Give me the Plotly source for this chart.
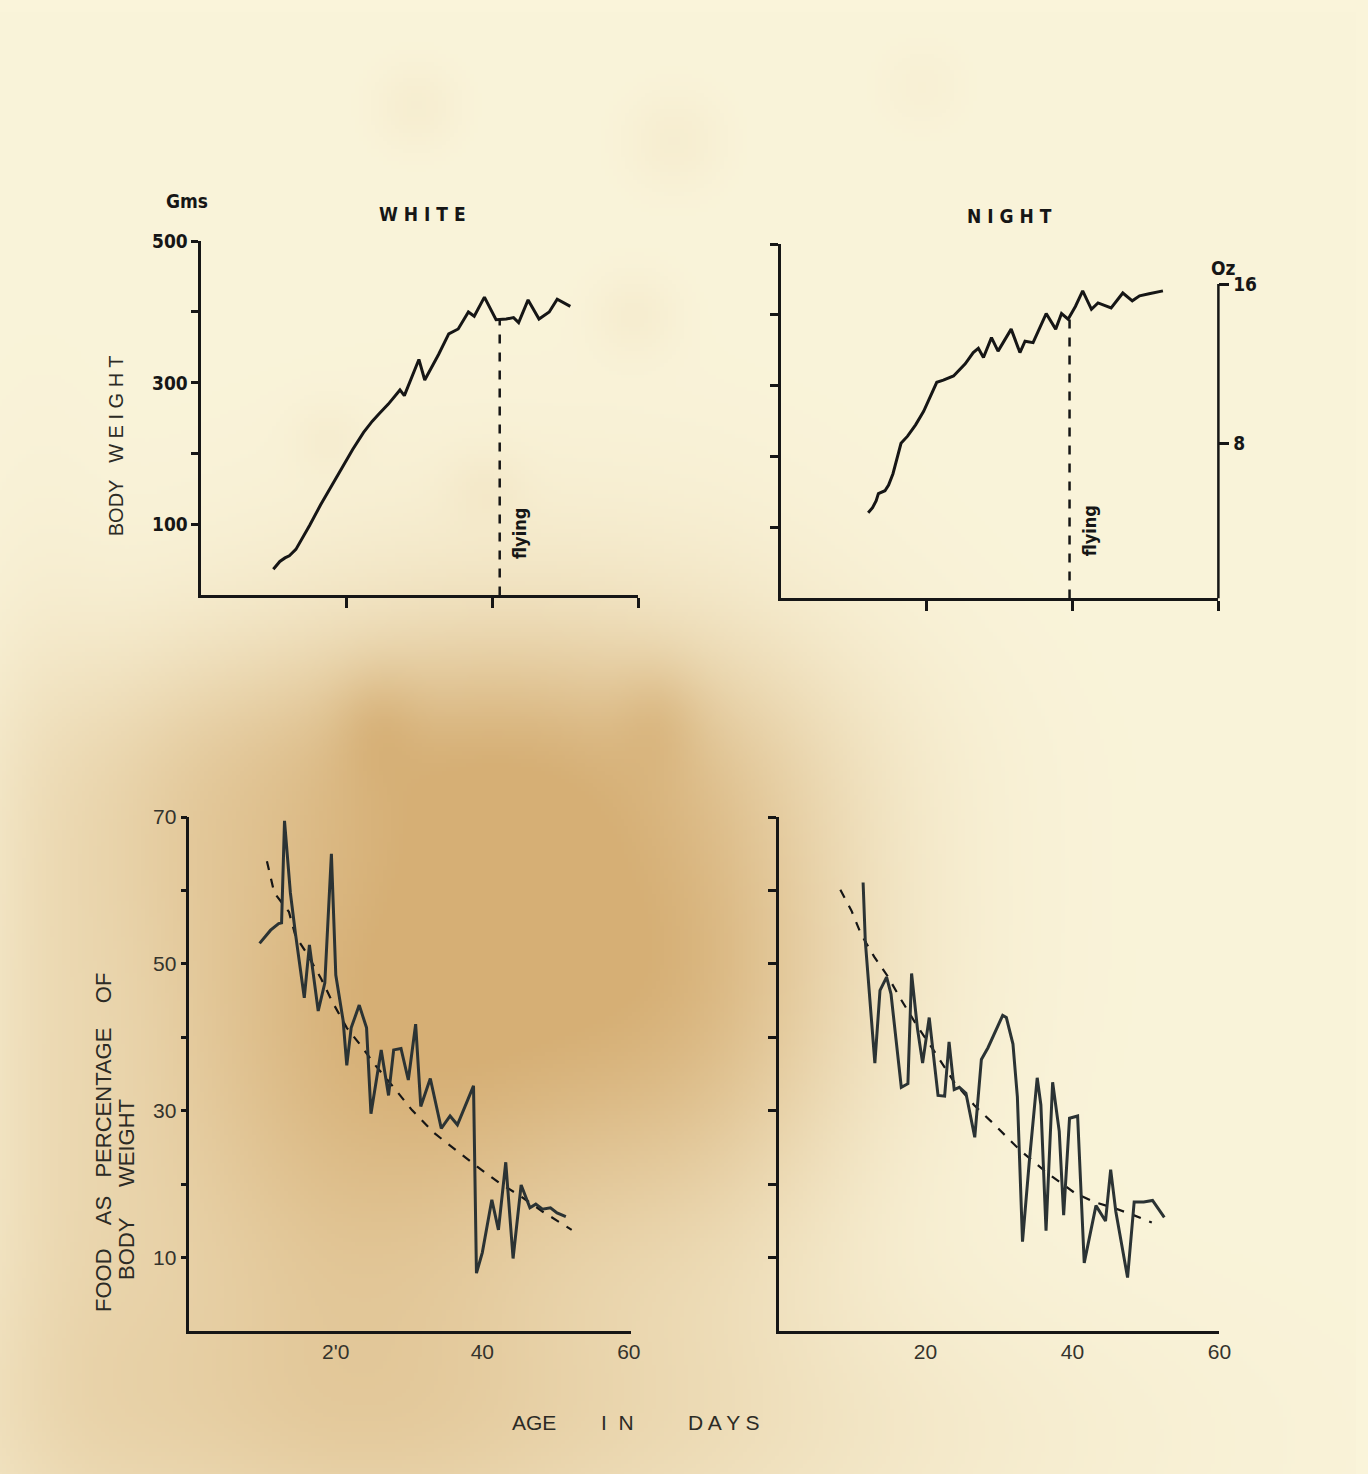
import base64
import struct
import zlib

import numpy as np
import plotly.graph_objects as go

# ---------------- data ----------------
white_day = [9.9, 10.8, 11.5, 12.1, 13.0, 13.7, 14.9, 16.4, 17.9, 19.4, 20.8, 22.3, 23.5,
             24.5, 25.7, 27.3, 27.9, 29.9, 30.7, 32.6, 34.0, 35.3, 36.7, 37.5, 38.9, 40.5,
             41.9, 42.9, 43.6, 44.9, 46.4, 47.8, 48.9, 50.7]
white_wt = [37, 48, 53, 56, 65, 77, 99, 128, 155, 182, 206, 230, 246,
            257, 270, 290, 282, 333, 304, 340, 369, 376, 400, 394, 421, 389,
            390, 392, 385, 417, 390, 400, 418, 408]

night_day = [12.0, 12.6, 13.1, 13.4, 14.3, 14.8, 15.4, 16.0, 16.5, 17.4, 18.5, 19.6, 20.0,
             21.4, 22.3, 23.7, 25.3, 26.4, 27.1, 27.8, 28.9, 29.8, 31.6, 32.8, 33.5, 34.6,
             36.4, 37.7, 38.5, 39.4, 40.4, 41.4, 42.6, 43.5, 45.3, 46.9, 48.2, 49.2, 50.5, 52.4]
night_wt = [121, 128, 138, 148, 152, 160, 176, 200, 219, 229, 245, 264, 273,
            305, 308, 314, 331, 347, 353, 340, 368, 349, 380, 347, 363, 361,
            402, 380, 402, 394, 412, 434, 408, 417, 410, 431, 420, 427, 430, 434]

white_flying_day = [41.0, 41.0]
white_flying_wt = [0, 389]
night_flying_day = [39.6, 39.6]
night_flying_wt = [0, 396]

white_food_day = [9.6, 11.1, 12.2, 12.6, 13.0, 13.8, 14.5, 15.7, 16.4, 16.9, 17.6, 18.5, 19.4,
                  20.0, 21.0, 21.5, 22.1, 23.2, 24.2, 24.8, 26.2, 27.2, 27.9, 28.9, 29.9, 30.9,
                  31.6, 32.9, 34.4, 35.6, 36.6, 38.8, 39.2, 40.0, 41.3, 42.2, 43.2, 44.2, 45.3,
                  46.5, 47.3, 48.2, 49.3, 50.2, 51.4]
white_food_pct = [52.8, 54.6, 55.5, 55.6, 69.5, 59.7, 54.1, 45.4, 52.6, 49.0, 43.6, 47.4, 65.0,
                  48.5, 42.3, 36.2, 41.3, 44.4, 41.3, 29.6, 38.3, 32.1, 38.3, 38.5, 34.2, 41.8,
                  30.6, 34.4, 27.6, 29.3, 28.1, 33.4, 7.9, 10.7, 17.9, 13.8, 23.0, 9.9, 19.9,
                  16.8, 17.3, 16.6, 16.8, 16.1, 15.6]
white_trend_day = [10.6, 11.6, 13.6, 14.5, 16.0, 18.0, 19.5, 21.5, 23.5, 25.4, 27.9, 30.4,
                   33.4, 36.3, 39.3, 42.3, 45.2, 48.2, 52.2]
white_trend_pct = [64.0, 59.7, 57.1, 53.8, 51.5, 48.0, 44.9, 41.3, 38.8, 36.2, 33.2, 30.1,
                   27.0, 24.7, 22.4, 20.2, 18.4, 16.3, 13.8]

night_food_day = [11.5, 11.8, 13.1, 13.8, 14.7, 15.3, 16.7, 17.6, 18.1, 18.9, 19.6, 20.5, 21.7,
                  22.6, 23.2, 23.9, 24.6, 25.5, 26.7, 27.6, 28.5, 30.5, 31.0, 31.9, 32.5, 33.2,
                  34.1, 35.2, 35.7, 36.4, 37.3, 38.2, 38.8, 39.6, 40.7, 41.6, 43.2, 44.5, 45.2,
                  45.9, 47.5, 48.4, 49.7, 50.9, 52.5]
night_food_pct = [61.1, 53.1, 36.5, 46.4, 48.2, 45.9, 33.2, 33.7, 48.7, 41.2, 36.5, 42.7, 32.1,
                  32.0, 39.4, 32.9, 33.2, 32.4, 26.4, 37.0, 38.6, 43.0, 42.7, 39.1, 31.9, 12.2,
                  22.8, 34.5, 30.8, 13.7, 33.9, 27.2, 15.8, 29.0, 29.3, 9.3, 17.1, 15.0, 22.0,
                  16.3, 7.3, 17.6, 17.6, 17.8, 15.5]
night_trend_day = [8.4, 9.9, 11.2, 13.0, 14.8, 16.7, 18.9, 21.2, 23.9, 26.6, 29.3, 32.9,
                   36.6, 40.2, 42.9, 45.6, 48.3, 50.8]
night_trend_pct = [60.1, 57.3, 54.1, 51.0, 48.4, 45.1, 41.5, 38.1, 33.9, 30.8, 28.2, 24.6,
                   21.5, 18.9, 17.6, 16.8, 15.8, 14.8]

wt_ticks = [100, 200, 300, 400, 500]
wt_ticktext = ["100", "", "300", "", "500"]
oz_ticks = [8, 16]
oz_ticktext = ["8", "16"]
oz_range = [0.25, 18.0]
day_ticks = [20, 40, 60]
left_day_text = ["2'0", "40", "60"]
right_day_text = ["20", "40", "60"]
pct_ticks = [10, 20, 30, 40, 50, 60, 70]
pct_ticktext = ["10", "", "30", "", "50", "", "70"]

# ---------------- style ----------------
W, H = 1368, 1474
INK = "#161616"
INK2 = "#2b3334"
COND = "Liberation Sans Narrow, DejaVu Sans Condensed, Arial Narrow, sans-serif"
PLAIN = "Liberation Sans, Arial, sans-serif"


def fx(px):
    # target pixel column -> paper fraction (small correction for the page capture)
    return ((px + 2.8) / 0.994) / W


def fy(py):
    return 1 - ((py - 10.5) / 0.9936) / H


# ---- paper background (aged paper with a brown stain) ----
def make_background():
    gw, gh = 342, 369
    xs = (np.arange(gw) + 0.5) * W / gw
    ys = (np.arange(gh) + 0.5) * H / gh
    X, Y = np.meshgrid(xs, ys)
    blobs = [
        (520, 920, 210, 200, 0.66),
        (330, 1150, 180, 230, 0.40),
        (450, 1440, 380, 110, 0.28),
        (720, 1000, 110, 200, 0.25),
        (460, 740, 220, 80, 0.25),
        (160, 820, 90, 120, 0.15),
        (80, 1300, 80, 200, 0.12),
        (40, 900, 50, 250, 0.10),
        (420, 95, 30, 30, 0.07),
        (680, 130, 35, 35, 0.07),
        (640, 305, 30, 30, 0.07),
        (330, 430, 25, 25, 0.05),
        (490, 480, 28, 28, 0.06),
        (930, 75, 30, 30, 0.04),
        (380, 715, 30, 40, 0.12),
        (665, 710, 30, 40, 0.12),
    ]
    a = np.zeros_like(X)
    for cx, cy, sx, sy, amp in blobs:
        a += amp * np.exp(-(((X - cx) / sx) ** 2 + ((Y - cy) / sy) ** 2) / 2)
    a = np.clip(a, 0, 0.8)[..., None]
    base = np.array([250, 244, 218], dtype=float)
    stain = np.array([205, 158, 92], dtype=float)
    img = np.clip(base * (1 - a) + stain * a, 0, 255).astype(np.uint8)
    raw = b"".join(b"\x00" + row.tobytes() for row in img)

    def chunk(tag, data):
        return (struct.pack(">I", len(data)) + tag + data
                + struct.pack(">I", zlib.crc32(tag + data) & 0xFFFFFFFF))

    png = (b"\x89PNG\r\n\x1a\n"
           + chunk(b"IHDR", struct.pack(">IIBBBBB", gw, gh, 8, 2, 0, 0, 0))
           + chunk(b"IDAT", zlib.compress(raw, 9))
           + chunk(b"IEND", b""))
    return "data:image/png;base64," + base64.b64encode(png).decode()


fig = go.Figure()

line_top = dict(color=INK, width=3)
line_bot = dict(color=INK2, width=3)
dash_bot = dict(color=INK, width=2.2, dash="dash")
dash_fly = dict(color=INK, width=2.5, dash="dash")

fig.add_trace(go.Scatter(x=white_day, y=white_wt, mode="lines", line=line_top, xaxis="x", yaxis="y"))
fig.add_trace(go.Scatter(x=white_flying_day, y=white_flying_wt, mode="lines", line=dash_fly, xaxis="x", yaxis="y"))
fig.add_trace(go.Scatter(x=night_day, y=night_wt, mode="lines", line=line_top, xaxis="x2", yaxis="y2"))
fig.add_trace(go.Scatter(x=night_flying_day, y=night_flying_wt, mode="lines", line=dash_fly, xaxis="x2", yaxis="y2"))
fig.add_trace(go.Scatter(x=[], y=[], mode="lines", xaxis="x2", yaxis="y3", hoverinfo="skip"))
fig.add_trace(go.Scatter(x=white_trend_day, y=white_trend_pct, mode="lines", line=dash_bot, xaxis="x3", yaxis="y4"))
fig.add_trace(go.Scatter(x=white_food_day, y=white_food_pct, mode="lines", line=line_bot, xaxis="x3", yaxis="y4"))
fig.add_trace(go.Scatter(x=night_trend_day, y=night_trend_pct, mode="lines", line=dash_bot, xaxis="x4", yaxis="y5"))
fig.add_trace(go.Scatter(x=night_food_day, y=night_food_pct, mode="lines", line=line_bot, xaxis="x4", yaxis="y5"))

axis_common = dict(showgrid=False, zeroline=False, showline=True, linecolor=INK, linewidth=2.5,
                   ticks="outside", tickcolor=INK, tickwidth=2.5, fixedrange=True)

top_tickfont = dict(family=COND, size=19, color=INK, weight="bold")
bot_tickfont = dict(family=PLAIN, size=21, color="#34332c")

fig.update_layout(
    width=W, height=H,
    margin=dict(l=0, r=0, t=0, b=0),
    paper_bgcolor="#faf4da",
    plot_bgcolor="rgba(0,0,0,0)",
    showlegend=False,
    images=[dict(source=make_background(), xref="paper", yref="paper", x=0, y=1,
                 sizex=1, sizey=1, sizing="stretch", layer="below", xanchor="left", yanchor="top")],
    xaxis=dict(axis_common, domain=[fx(199), fx(637)], range=[0, 60], anchor="y",
               tickvals=day_ticks, ticktext=["", "", ""], ticklen=10),
    yaxis=dict(axis_common, domain=[fy(595), fy(240)], range=[0, 500], anchor="x",
               tickvals=wt_ticks, ticktext=wt_ticktext, ticklen=7, tickfont=top_tickfont),
    xaxis2=dict(axis_common, domain=[fx(780), fx(1219)], range=[0, 60], anchor="y2",
                tickvals=day_ticks, ticktext=["", "", ""], ticklen=10),
    yaxis2=dict(axis_common, domain=[fy(598), fy(243)], range=[0, 500], anchor="x2",
                tickvals=wt_ticks, ticktext=["", "", "", "", ""], ticklen=8),
    yaxis3=dict(showgrid=False, zeroline=False, showline=False, overlaying="y2", side="right",
                anchor="x2", range=oz_range, tickvals=oz_ticks, ticktext=oz_ticktext,
                ticks="outside", ticklen=10, tickwidth=2.5, tickcolor=INK, tickfont=top_tickfont,
                ticklabelstandoff=0, fixedrange=True),
    xaxis3=dict(axis_common, domain=[fx(187), fx(630)], range=[0, 60.3], anchor="y4",
                tickvals=day_ticks, ticktext=left_day_text, ticks="", tickfont=bot_tickfont),
    yaxis4=dict(axis_common, domain=[fy(1332), fy(817)], range=[0, 70], anchor="x3",
                tickvals=pct_ticks, ticktext=pct_ticktext, ticklen=6, tickfont=bot_tickfont),
    xaxis4=dict(axis_common, domain=[fx(778), fx(1220)], range=[0, 60], anchor="y5",
                tickvals=day_ticks, ticktext=right_day_text, ticks="", tickfont=bot_tickfont),
    yaxis5=dict(axis_common, domain=[fy(1332), fy(817)], range=[0, 70], anchor="x4",
                tickvals=pct_ticks, ticktext=["", "", "", "", "", "", ""], ticklen=8),
)

# right-hand ounce axis line (from the x axis up to 16 oz)
fig.add_shape(type="line", xref="x2 domain", yref="y3", x0=1, x1=1, y0=oz_range[0], y1=oz_ticks[-1],
              line=dict(color=INK, width=2.5))


def label(text, px, py, size=18, font=COND, angle=0, bold=True, color=INK):
    fig.add_annotation(text=text, x=fx(px), y=fy(py), xref="paper", yref="paper",
                       xanchor="center", yanchor="middle",
                       showarrow=False, textangle=angle,
                       font=dict(family=font, size=size, color=color,
                                 weight="bold" if bold else "normal"))


TXT = "#2c2b25"
label("Gms", 185, 200, size=19)
label("W H I T E", 421, 213, size=19)
label("N I G H T", 1010, 215, size=19)
label("Oz", 1224, 267, size=19)
label("flying", 518, 533, size=18, angle=-90)
label("flying", 1090, 530, size=18, angle=-90)
label("BODY&nbsp;&nbsp; W E I G H T", 113, 445, size=20, font=PLAIN, angle=-90, bold=False, color=TXT)
label("FOOD&nbsp;&nbsp;&nbsp; AS&nbsp;&nbsp;&nbsp;PERCENTAGE&nbsp;&nbsp;&nbsp; OF", 101, 1143, size=22,
      font=PLAIN, angle=-90, bold=False, color=TXT)
label("BODY&nbsp;&nbsp;&nbsp;&nbsp; WEIGHT", 124, 1190, size=22, font=PLAIN, angle=-90, bold=False, color=TXT)
label("AGE", 533, 1423, size=21, font=PLAIN, bold=False, color=TXT)
label("I&nbsp; N", 616, 1423, size=21, font=PLAIN, bold=False, color=TXT)
label("D A Y S", 723, 1423, size=21, font=PLAIN, bold=False, color=TXT)

fig.write_html("out.html")
